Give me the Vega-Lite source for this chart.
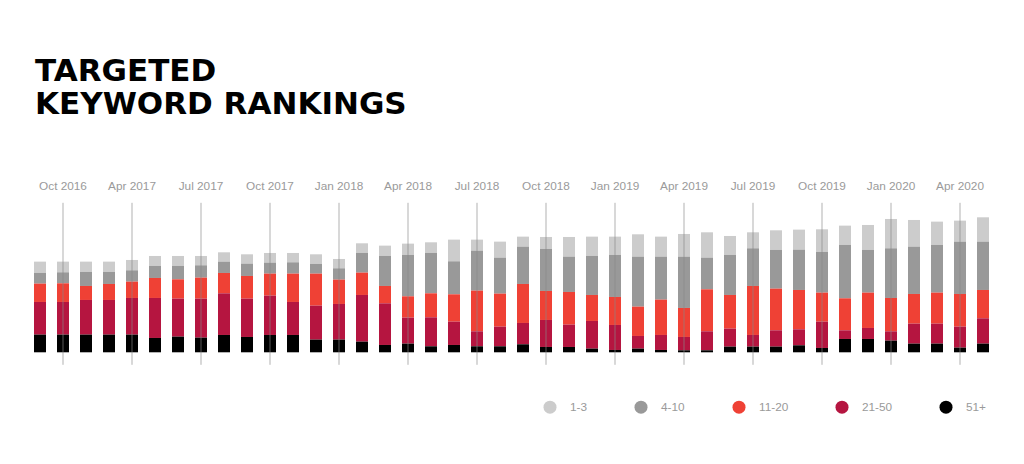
{
  "$schema": "https://vega.github.io/schema/vega-lite/v6.json",
  "autosize": "none",
  "width": 966,
  "height": 162,
  "padding": {"left": 28.5, "top": 202.3, "right": 29.5, "bottom": 99.7},
  "background": "#ffffff",
  "title": {
    "text": ["TARGETED", "KEYWORD RANKINGS"],
    "anchor": "start",
    "frame": "group",
    "font": "DejaVu Sans",
    "fontWeight": "bold",
    "fontSize": 31,
    "lineHeight": 33,
    "color": "#000000",
    "dx": 6.5,
    "offset": 59
  },
  "datasets": {
    "cats": [
      {"range": "51+", "rank": 0},
      {"range": "21-50", "rank": 1},
      {"range": "11-20", "rank": 2},
      {"range": "4-10", "rank": 3},
      {"range": "1-3", "rank": 4}
    ]
  },
  "data": {
    "values": [
      {"month": "Sep 2016", "1-3": 34, "4-10": 32, "11-20": 55, "21-50": 98, "51+": 53},
      {"month": "Oct 2016", "1-3": 32, "4-10": 33, "11-20": 56, "21-50": 98, "51+": 53},
      {"month": "Dec 2016", "1-3": 31, "4-10": 42, "11-20": 42, "21-50": 104, "51+": 53},
      {"month": "Feb 2017", "1-3": 31, "4-10": 36, "11-20": 48, "21-50": 104, "51+": 53},
      {"month": "Apr 2017", "1-3": 31, "4-10": 34, "11-20": 49, "21-50": 110, "51+": 53},
      {"month": "May 2017", "1-3": 30, "4-10": 36, "11-20": 60, "21-50": 120, "51+": 43},
      {"month": "Jun 2017", "1-3": 30, "4-10": 40, "11-20": 58, "21-50": 114, "51+": 47},
      {"month": "Jul 2017", "1-3": 28, "4-10": 37, "11-20": 63, "21-50": 117, "51+": 44},
      {"month": "Aug 2017", "1-3": 28, "4-10": 34, "11-20": 61, "21-50": 125, "51+": 52},
      {"month": "Sep 2017", "1-3": 28, "4-10": 37, "11-20": 68, "21-50": 115, "51+": 46},
      {"month": "Oct 2017", "1-3": 29, "4-10": 33, "11-20": 66, "21-50": 118, "51+": 52},
      {"month": "Nov 2017", "1-3": 28, "4-10": 34, "11-20": 85, "21-50": 99, "51+": 52},
      {"month": "Dec 2017", "1-3": 29, "4-10": 29, "11-20": 96, "21-50": 102, "51+": 38},
      {"month": "Jan 2018", "1-3": 28, "4-10": 34, "11-20": 73, "21-50": 107, "51+": 38},
      {"month": "Feb 2018", "1-3": 29, "4-10": 59, "11-20": 67, "21-50": 140, "51+": 32},
      {"month": "Mar 2018", "1-3": 31, "4-10": 90, "11-20": 52, "21-50": 125, "51+": 22},
      {"month": "Apr 2018", "1-3": 34, "4-10": 124, "11-20": 64, "21-50": 78, "51+": 26},
      {"month": "May 2018", "1-3": 32, "4-10": 121, "11-20": 72, "21-50": 87, "51+": 18},
      {"month": "Jun 2018", "1-3": 65, "4-10": 99, "11-20": 82, "21-50": 70, "51+": 22},
      {"month": "Jul 2018", "1-3": 33, "4-10": 120, "11-20": 122, "21-50": 45, "51+": 18},
      {"month": "Aug 2018", "1-3": 48, "4-10": 108, "11-20": 99, "21-50": 59, "51+": 18},
      {"month": "Sep 2018", "1-3": 30, "4-10": 112, "11-20": 117, "21-50": 64, "51+": 24},
      {"month": "Oct 2018", "1-3": 36, "4-10": 126, "11-20": 87, "21-50": 81, "51+": 16},
      {"month": "Nov 2018", "1-3": 59, "4-10": 106, "11-20": 98, "21-50": 67, "51+": 16},
      {"month": "Dec 2018", "1-3": 58, "4-10": 117, "11-20": 78, "21-50": 83, "51+": 11},
      {"month": "Jan 2019", "1-3": 55, "4-10": 126, "11-20": 84, "21-50": 75, "51+": 7},
      {"month": "Feb 2019", "1-3": 67, "4-10": 150, "11-20": 88, "21-50": 38, "51+": 11},
      {"month": "Mar 2019", "1-3": 60, "4-10": 129, "11-20": 106, "21-50": 45, "51+": 7},
      {"month": "Apr 2019", "1-3": 68, "4-10": 154, "11-20": 87, "21-50": 40, "51+": 6},
      {"month": "May 2019", "1-3": 76, "4-10": 95, "11-20": 126, "21-50": 57, "51+": 6},
      {"month": "Jun 2019", "1-3": 57, "4-10": 120, "11-20": 101, "21-50": 54, "51+": 17},
      {"month": "Jul 2019", "1-3": 48, "4-10": 113, "11-20": 147, "21-50": 35, "51+": 17},
      {"month": "Aug 2019", "1-3": 59, "4-10": 116, "11-20": 125, "21-50": 49, "51+": 17},
      {"month": "Sep 2019", "1-3": 60, "4-10": 121, "11-20": 118, "21-50": 48, "51+": 21},
      {"month": "Oct 2019", "1-3": 68, "4-10": 122, "11-20": 87, "21-50": 79, "51+": 13},
      {"month": "Nov 2019", "1-3": 58, "4-10": 160, "11-20": 96, "21-50": 26, "51+": 40},
      {"month": "Dec 2019", "1-3": 75, "4-10": 128, "11-20": 106, "21-50": 33, "51+": 40},
      {"month": "Jan 2020", "1-3": 88, "4-10": 149, "11-20": 100, "21-50": 28, "51+": 35},
      {"month": "Feb 2020", "1-3": 80, "4-10": 142, "11-20": 89, "21-50": 60, "51+": 26},
      {"month": "Mar 2020", "1-3": 70, "4-10": 143, "11-20": 93, "21-50": 60, "51+": 26},
      {"month": "Apr 2020", "1-3": 63, "4-10": 157, "11-20": 98, "21-50": 63, "51+": 14},
      {"month": "May 2020", "1-3": 73, "4-10": 145, "11-20": 85, "21-50": 76, "51+": 26}
    ]
  },
  "transform": [
    {"fold": ["1-3", "4-10", "11-20", "21-50", "51+"], "as": ["range", "count"]},
    {"lookup": "range", "from": {"data": {"name": "cats"}, "key": "range", "fields": ["rank"]}}
  ],
  "mark": {"type": "bar"},
  "encoding": {
    "x": {
      "field": "month",
      "type": "nominal",
      "sort": null,
      "scale": {"paddingInner": 0.48, "paddingOuter": 0.24},
      "axis": {
        "orient": "top",
        "title": null,
        "values": ["Oct 2016", "Apr 2017", "Jul 2017", "Oct 2017", "Jan 2018", "Apr 2018", "Jul 2018", "Oct 2018", "Jan 2019", "Apr 2019", "Jul 2019", "Oct 2019", "Jan 2020", "Apr 2020"],
        "domain": false,
        "ticks": false,
        "tickSize": 0,
        "labelAngle": 0,
        "labelPadding": 11,
        "labelFont": "Liberation Sans",
        "labelFontSize": 11.8,
        "labelColor": "#9a9a9a",
        "grid": true,
        "gridColor": "#888888",
        "gridOpacity": 0.65,
        "gridWidth": 1,
        "bandPosition": 0.5,
        "zindex": 1
      }
    },
    "y": {
      "field": "count",
      "type": "quantitative",
      "stack": "zero",
      "scale": {"domain": [-36, 450], "nice": false, "zero": false},
      "axis": null
    },
    "color": {
      "field": "range",
      "type": "nominal",
      "scale": {
        "domain": ["1-3", "4-10", "11-20", "21-50", "51+"],
        "range": ["#cccccc", "#999999", "#ef4135", "#b51540", "#000000"]
      },
      "legend": {
        "title": null,
        "orient": "none",
        "direction": "horizontal",
        "legendX": 515,
        "legendY": 198,
        "symbolType": "circle",
        "symbolSize": 169,
        "symbolStrokeWidth": 0,
        "symbolOpacity": 1,
        "labelOffset": 13.5,
        "columnPadding": 47,
        "labelFont": "Liberation Sans",
        "labelFontSize": 11.8,
        "labelColor": "#9a9a9a"
      }
    },
    "order": {"field": "rank", "type": "quantitative", "sort": "ascending"}
  },
  "config": {
    "view": {"stroke": null}
  }
}
